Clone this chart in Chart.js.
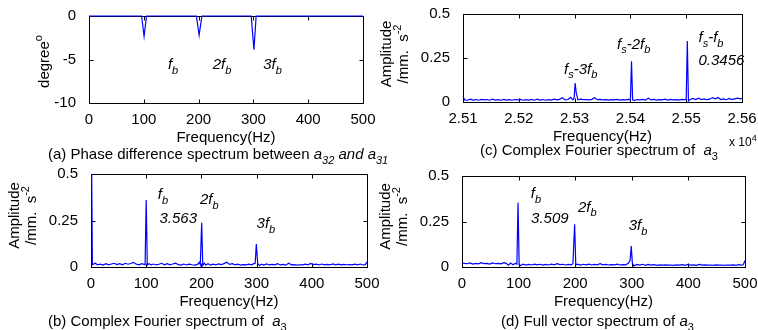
<!DOCTYPE html>
<html>
<head>
<meta charset="utf-8">
<script src="https://cdn.jsdelivr.net/npm/chart.js@4.4.1/dist/chart.umd.min.js"></script>
<style>
  html, body { margin: 0; padding: 0; background: #fff; }
  #wrap { position: relative; width: 758px; height: 330px; }
  #wrap canvas { position: absolute; left: 0; top: 0; }
</style>
</head>
<body>
<div id="wrap">
  <canvas id="panel-a" width="758" height="330"></canvas>
  <canvas id="panel-b" width="758" height="330"></canvas>
  <canvas id="panel-c" width="758" height="330"></canvas>
  <canvas id="panel-d" width="758" height="330"></canvas>
</div>
<script>
// ---- data ----
const hzTickLabels = ["0", "100", "200", "300", "400", "500"];
const khzTickLabels = ["2.51", "2.52", "2.53", "2.54", "2.55", "2.56"];
const ampTickLabels = ["0", "0.25", "0.5"];
const phaseTickLabels = ["-10", "-5", "0"];

// (a) phase difference between a32 and a31
const phaseFreq = [0, 96, 100.5, 105, 196, 201, 206, 296, 301, 305, 500];
const phaseDeg  = [0, 0, -2.33, 0, 0, -2.2, 0, 0, -3.87, 0, 0];

// (b) complex Fourier spectrum of a3, positive side
const cfsFreq = [
  0, 2.5, 7.5, 12, 17, 22, 27, 32, 37, 42,
  47, 52, 57, 62, 67, 72, 77, 82, 87, 92,
  96, 98, 100, 102, 105, 109, 113, 118, 123, 128,
  133, 138, 143, 148, 153, 158, 163, 168, 173, 178,
  183, 188, 193, 196, 198, 200.5, 202.5, 205, 208, 212,
  216, 221, 226, 231, 236, 241, 246, 251, 256, 261,
  266, 271, 276, 281, 286, 291, 295, 297.5, 299.5, 302,
  305, 309, 313, 318, 323, 328, 333, 338, 343, 348,
  353, 358, 363, 368, 373, 378, 383, 388, 393, 398,
  403, 408, 413, 418, 423, 428, 433, 438, 443, 448,
  453, 458, 463, 468, 473, 478, 483, 488, 493, 497,
  500
];
const cfsAmp = [
  1.0, 0.012, 0.02, 0.012, 0.015, 0.01, 0.018, 0.012, 0.016, 0.02,
  0.013, 0.018, 0.012, 0.02, 0.015, 0.019, 0.025, 0.015, 0.012, 0.018,
  0.014, 0.012, 0.36, 0.01, 0.018, 0.012, 0.016, 0.011, 0.015, 0.02,
  0.012, 0.018, 0.012, 0.016, 0.021, 0.013, 0.01, 0.016, 0.011, 0.015,
  0.012, 0.01, 0.014, 0.025, 0.012, 0.238, 0.008, 0.02, 0.011, 0.018,
  0.01, 0.015, 0.012, 0.017, 0.013, 0.018, 0.026, 0.014, 0.018, 0.012,
  0.015, 0.01, 0.013, 0.011, 0.015, 0.012, 0.018, 0.02, 0.124, 0.02,
  0.008, 0.015, 0.01, 0.017, 0.011, 0.014, 0.012, 0.018, 0.011, 0.014,
  0.01, 0.02, 0.012, 0.013, 0.01, 0.012, 0.011, 0.015, 0.012, 0.019,
  0.013, 0.015, 0.011, 0.016, 0.012, 0.014, 0.011, 0.017, 0.012, 0.015,
  0.011, 0.014, 0.012, 0.013, 0.011, 0.015, 0.012, 0.016, 0.011, 0.013,
  0.028
];

// (c) complex Fourier spectrum of a3 around fs
const hfFreq = [
  25100, 25103, 25108, 25113, 25118, 25123, 25128, 25133, 25138, 25143,
  25148, 25153, 25158, 25163, 25168, 25173, 25178, 25183, 25188, 25193,
  25198, 25203, 25208, 25213, 25218, 25223, 25228, 25233, 25238, 25243,
  25248, 25253, 25258, 25263, 25268, 25273, 25278, 25283, 25288, 25293,
  25297, 25299, 25301, 25303, 25306, 25311, 25316, 25321, 25326, 25331,
  25336, 25341, 25346, 25351, 25356, 25361, 25366, 25371, 25376, 25381,
  25386, 25391, 25396, 25400, 25402, 25404, 25407, 25412, 25417, 25422,
  25427, 25432, 25437, 25442, 25447, 25452, 25457, 25462, 25467, 25472,
  25477, 25482, 25487, 25492, 25497, 25500, 25502, 25504, 25507, 25512,
  25517, 25522, 25527, 25532, 25537, 25542, 25547, 25552, 25557, 25562,
  25567, 25572, 25577, 25582, 25587, 25592, 25597, 25600
];
const hfAmp = [
  0.032, 0.012, 0.01, 0.016, 0.011, 0.014, 0.01, 0.015, 0.012, 0.014,
  0.01, 0.016, 0.011, 0.013, 0.01, 0.015, 0.011, 0.013, 0.01, 0.014,
  0.012, 0.015, 0.01, 0.013, 0.011, 0.015, 0.01, 0.016, 0.011, 0.014,
  0.01, 0.013, 0.011, 0.016, 0.012, 0.015, 0.024, 0.012, 0.014, 0.026,
  0.012, 0.02, 0.108, 0.05, 0.012, 0.016, 0.013, 0.014, 0.012, 0.015,
  0.024, 0.013, 0.015, 0.012, 0.014, 0.011, 0.014, 0.012, 0.015, 0.011,
  0.014, 0.012, 0.015, 0.012, 0.231, 0.012, 0.008, 0.014, 0.012, 0.015,
  0.011, 0.022, 0.012, 0.015, 0.011, 0.014, 0.012, 0.016, 0.011, 0.015,
  0.012, 0.014, 0.011, 0.015, 0.014, 0.014, 0.346, 0.006, 0.014, 0.02,
  0.014, 0.022, 0.014, 0.018, 0.013, 0.016, 0.025, 0.018, 0.026, 0.014,
  0.018, 0.013, 0.02, 0.014, 0.018, 0.022, 0.018, 0.02
];

// (d) full vector spectrum of a3
const fvsFreq = [
  0, 4, 9, 14, 19, 24, 29, 34, 39, 44,
  49, 54, 59, 64, 69, 74, 78, 82, 86, 90,
  94, 97, 99, 101, 104, 108, 113, 118, 123, 128,
  133, 138, 143, 148, 153, 158, 163, 168, 173, 178,
  183, 188, 193, 196, 199, 201, 204, 209, 214, 219,
  224, 229, 234, 239, 244, 249, 254, 259, 264, 269,
  274, 279, 284, 289, 294, 297, 299, 301, 304, 309,
  314, 319, 324, 329, 334, 339, 344, 349, 354, 359,
  364, 369, 374, 379, 384, 389, 394, 399, 404, 409,
  414, 419, 424, 429, 434, 439, 444, 449, 454, 459,
  464, 469, 474, 479, 484, 489, 494, 497, 500
];
const fvsAmp = [
  0.022, 0.02, 0.018, 0.022, 0.016, 0.02, 0.017, 0.024, 0.019, 0.02,
  0.016, 0.022, 0.018, 0.02, 0.017, 0.024, 0.02, 0.01, 0.022, 0.012,
  0.02, 0.016, 0.353, 0.012, 0.008, 0.016, 0.01, 0.014, 0.011, 0.016,
  0.012, 0.015, 0.01, 0.014, 0.011, 0.016, 0.012, 0.018, 0.013, 0.015,
  0.011, 0.014, 0.012, 0.018, 0.235, 0.012, 0.016, 0.01, 0.015, 0.012,
  0.016, 0.011, 0.014, 0.012, 0.018, 0.012, 0.014, 0.011, 0.013, 0.012,
  0.016, 0.011, 0.013, 0.012, 0.02, 0.035, 0.115, 0.02, 0.006, 0.014,
  0.01, 0.015, 0.009, 0.014, 0.01, 0.013, 0.009, 0.012, 0.01, 0.012,
  0.01, 0.011, 0.009, 0.012, 0.01, 0.013, 0.009, 0.014, 0.01, 0.012,
  0.009, 0.014, 0.01, 0.012, 0.01, 0.011, 0.009, 0.012, 0.01, 0.011,
  0.009, 0.011, 0.01, 0.012, 0.009, 0.013, 0.01, 0.012, 0.036
];

// ---- drawing helpers ----
const FONT = "'Liberation Sans', Arial, Helvetica, sans-serif";
Chart.defaults.font.family = FONT;
Chart.defaults.font.size = 15;
Chart.defaults.color = "#000";

// parts: [text, flags]; flags: i = italic, _ = subscript, ^ = superscript
function fontOf(flags, size) {
  const small = flags.indexOf("_") >= 0 || flags.indexOf("^") >= 0;
  return (flags.indexOf("i") >= 0 ? "italic " : "") + (small ? Math.round(size * 0.75) : size) + "px " + FONT;
}
function richWidth(ctx, parts, size) {
  let w = 0;
  parts.forEach(function (p) { ctx.font = fontOf(p[1], size); w += ctx.measureText(p[0]).width; });
  return w;
}
function drawRich(ctx, parts, x, y, size, align) {
  if (align === "center") x -= richWidth(ctx, parts, size) / 2;
  ctx.textAlign = "left";
  ctx.textBaseline = "middle";
  ctx.fillStyle = "#000";
  parts.forEach(function (p) {
    const f = p[1];
    let dy = 0;
    if (f.indexOf("_") >= 0) dy = size * 0.38;
    if (f.indexOf("^") >= 0) dy = -size * 0.4;
    ctx.font = fontOf(f, size);
    ctx.fillText(p[0], x, y + dy);
    x += ctx.measureText(p[0]).width;
  });
}

function decoPlugin(cfg) {
  return {
    id: "deco",
    beforeDatasetsDraw: function (chart) {
      const ctx = chart.ctx;
      const a = chart.chartArea;
      const xs = chart.scales.x, ys = chart.scales.y;
      const l = Math.round(a.left) + 0.5, r = Math.round(a.right) + 0.5;
      const t = Math.round(a.top) + 0.5, b = Math.round(a.bottom) + 0.5;
      ctx.save();
      ctx.strokeStyle = "#000";
      ctx.lineWidth = 1;
      ctx.strokeRect(l, t, r - l, b - t);
      ctx.beginPath();
      xs.ticks.forEach(function (tk, i) {
        const px = Math.round(xs.getPixelForTick(i)) + 0.5;
        ctx.moveTo(px, b); ctx.lineTo(px, b - 4);
        ctx.moveTo(px, t); ctx.lineTo(px, t + 4);
      });
      ys.ticks.forEach(function (tk, i) {
        const py = Math.round(ys.getPixelForTick(i)) + 0.5;
        ctx.moveTo(l, py); ctx.lineTo(l + 4, py);
        ctx.moveTo(r, py); ctx.lineTo(r - 4, py);
      });
      ctx.stroke();
      ctx.restore();
    },
    afterDraw: function (chart) {
      const ctx = chart.ctx;
      const a = chart.chartArea;
      const xs = chart.scales.x, ys = chart.scales.y;
      ctx.save();
      // y axis title, rotated
      const cy = (a.top + a.bottom) / 2 + cfg.yTitleShift;
      cfg.yTitle.forEach(function (line) {
        ctx.save();
        ctx.translate(a.left + line.dx, cy);
        ctx.rotate(-Math.PI / 2);
        drawRich(ctx, line.parts, 0, 0, 15, "center");
        ctx.restore();
      });
      // peak labels, placed in data units
      cfg.notes.forEach(function (n) {
        drawRich(ctx, n.parts, xs.getPixelForValue(n.x), ys.getPixelForValue(n.y), 15, "left");
      });
      // caption under the panel
      drawRich(ctx, cfg.caption, cfg.captionAt[0], cfg.captionAt[1], 15, "left");
      if (cfg.extra) drawRich(ctx, cfg.extra.parts, cfg.extra.at[0], cfg.extra.at[1], cfg.extra.size, "left");
      ctx.restore();
    }
  };
}

function makePanel(id, cfg) {
  const Y_W = 50, X_H = 45;
  const points = cfg.xs.map(function (x, i) { return { x: x, y: cfg.ys[i] }; });
  return new Chart(document.getElementById(id), {
    type: "line",
    data: {
      datasets: [{
        data: points,
        borderColor: "#0000ff",
        borderWidth: 1.2,
        pointRadius: 0,
        tension: 0,
        fill: false,
        clip: cfg.clip
      }]
    },
    options: {
      responsive: false,
      animation: false,
      events: [],
      layout: {
        padding: {
          left: cfg.box.l - Y_W,
          right: 758 - cfg.box.r,
          top: cfg.box.t,
          bottom: 330 - cfg.box.b - X_H
        }
      },
      plugins: { legend: { display: false }, tooltip: { enabled: false } },
      scales: {
        x: {
          type: "linear",
          min: cfg.xMin, max: cfg.xMax,
          grid: { display: false },
          border: { display: false },
          ticks: {
            stepSize: cfg.xStep,
            maxRotation: 0,
            padding: 0,
            color: "#000",
            callback: function (v, i) { return cfg.xLabels[i]; }
          },
          title: { display: true, text: "Frequency(Hz)", color: "#000", padding: { top: 0, bottom: 1 } },
          afterFit: function (s) { s.height = X_H; }
        },
        y: {
          type: "linear",
          min: cfg.yMin, max: cfg.yMax,
          grid: { display: false },
          border: { display: false },
          ticks: {
            stepSize: cfg.yStep,
            padding: 5,
            color: "#000",
            callback: function (v, i) { return cfg.yLabels[i]; }
          },
          afterFit: function (s) { s.width = Y_W; }
        }
      }
    },
    plugins: [decoPlugin(cfg)]
  });
}

const fb = [["f", "i"], ["b", "i_"]];
const fb2 = [["2f", "i"], ["b", "i_"]];
const fb3 = [["3f", "i"], ["b", "i_"]];
const ampTitle = [
  { dx: -76, parts: [["Amplitude", ""]] },
  { dx: -59, parts: [["/mm.  s", ""], ["-2", "^"]] }
];

makePanel("panel-a", {
  box: { l: 89, r: 363, t: 16, b: 103 },
  xs: phaseFreq, ys: phaseDeg,
  xMin: 0, xMax: 500, xStep: 100, xLabels: hzTickLabels,
  yMin: -10, yMax: 0, yStep: 5, yLabels: phaseTickLabels,
  clip: 2,
  yTitle: [{ dx: -44, parts: [["degree", ""], ["o", "^"]] }],
  yTitleShift: 2,
  notes: [
    { x: 144, y: -5.63, parts: fb },
    { x: 225.7, y: -5.63, parts: fb2 },
    { x: 318, y: -5.63, parts: fb3 }
  ],
  caption: [["(a) Phase difference spectrum between ", ""], ["a", "i"], ["32", "i_"], [" and ", "i"], ["a", "i"], ["31", "i_"]],
  captionAt: [48, 155]
});

makePanel("panel-b", {
  box: { l: 91, r: 367, t: 174, b: 267 },
  xs: cfsFreq, ys: cfsAmp,
  xMin: 0, xMax: 500, xStep: 100, xLabels: hzTickLabels,
  yMin: 0, yMax: 0.5, yStep: 0.25, yLabels: ampTickLabels,
  clip: { left: 1, top: 0, right: 1, bottom: 1 },
  yTitle: ampTitle,
  yTitleShift: -5,
  notes: [
    { x: 121, y: 0.387, parts: fb },
    { x: 124, y: 0.258, parts: [["3.563", "i"]] },
    { x: 197.5, y: 0.36, parts: fb2 },
    { x: 300, y: 0.231, parts: fb3 }
  ],
  caption: [["(b) Complex Fourier spectrum of  ", ""], ["a", "i"], ["3", "_"]],
  captionAt: [48, 322]
});

makePanel("panel-c", {
  box: { l: 463, r: 742, t: 11, b: 102 },
  xs: hfFreq, ys: hfAmp,
  xMin: 25100, xMax: 25600, xStep: 100, xLabels: khzTickLabels,
  yMin: 0, yMax: 0.5, yStep: 0.25, yLabels: ampTickLabels,
  clip: { left: 1, top: 0, right: 1, bottom: 1 },
  yTitle: ampTitle,
  yTitleShift: -4,
  notes: [
    { x: 25281, y: 0.185, parts: [["f", "i"], ["s", "i_"], ["-3f", "i"], ["b", "i_"]] },
    { x: 25376, y: 0.327, parts: [["f", "i"], ["s", "i_"], ["-2f", "i"], ["b", "i_"]] },
    { x: 25522, y: 0.364, parts: [["f", "i"], ["s", "i_"], ["-f", "i"], ["b", "i_"]] },
    { x: 25522, y: 0.236, parts: [["0.3456", "i"]] }
  ],
  caption: [["(c) Complex Fourier spectrum of  ", ""], ["a", "i"], ["3", "_"]],
  captionAt: [480, 151],
  extra: { parts: [["x 10", ""], ["4", "^"]], at: [729, 143], size: 12 }
});

makePanel("panel-d", {
  box: { l: 462, r: 745, t: 176, b: 267 },
  xs: fvsFreq, ys: fvsAmp,
  xMin: 0, xMax: 500, xStep: 100, xLabels: hzTickLabels,
  yMin: 0, yMax: 0.5, yStep: 0.25, yLabels: ampTickLabels,
  clip: { left: 1, top: 0, right: 1, bottom: 1 },
  yTitle: ampTitle,
  yTitleShift: -5,
  notes: [
    { x: 121.4, y: 0.401, parts: fb },
    { x: 122, y: 0.264, parts: [["3.509", "i"]] },
    { x: 205, y: 0.327, parts: fb2 },
    { x: 294.5, y: 0.226, parts: fb3 }
  ],
  caption: [["(d) Full vector spectrum of ", ""], ["a", "i"], ["3", "_"]],
  captionAt: [501, 322]
});
</script>
</body>
</html>
